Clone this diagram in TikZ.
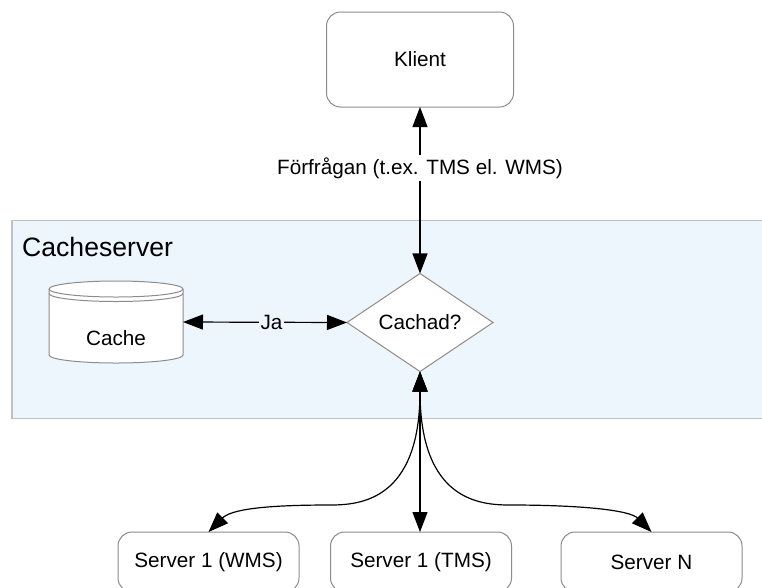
\documentclass[tikz,border=0pt]{standalone}
\usepackage{fontspec}
\setmainfont{Liberation Sans}
\usetikzlibrary{arrows.meta,shapes.geometric}
\definecolor{edgegray}{RGB}{140,140,140}
\definecolor{framegray}{RGB}{192,192,192}
\definecolor{paneblue}{RGB}{237,245,253}
\begin{document}
\begin{tikzpicture}[x=1pt,y=-1pt,
  txt/.style={font=\fontsize{20.7}{24}\selectfont},
  roundbox/.style={draw=edgegray, line width=1pt, fill=white, rounded corners=14pt,
    minimum width=181pt, minimum height=60pt, inner sep=0pt, outer sep=0pt, txt},
  flow/.style={line width=1.2pt,
    {Triangle[length=20pt,width=15pt]}-{Triangle[length=20pt,width=15pt]}},
]
\clip (0,0) rectangle (762,587);
\fill[white] (0,0) rectangle (762,587);

% cache server pane
\draw[fill=paneblue, draw=framegray, line width=1.3pt] (12,220.5) rectangle (775,418.5);
\node[anchor=west, font=\fontsize{26.6}{30}\selectfont, inner sep=0pt] (title) at (22,246.5) {Cacheserver};

% client
\node[roundbox, minimum width=187pt, minimum height=95pt] (klient) at (420,59.5) {Klient};

% decision
\node[diamond, draw=edgegray, fill=white, line width=1pt, minimum width=146pt,
  minimum height=87pt, inner sep=0pt, outer sep=0pt, txt] (dia) at (420,322.5) {Cachad?};

% cache store (database cylinder)
\filldraw[fill=white, draw=edgegray, line width=1pt]
  (49,289) -- (49,355) arc[start angle=180, end angle=0, x radius=67, y radius=8]
  -- (183,289) arc[start angle=0, end angle=-180, x radius=67, y radius=8] -- cycle;
\draw[edgegray, line width=1pt] (49,289) arc[start angle=180, end angle=0, x radius=67, y radius=8];
\draw[edgegray, line width=1pt] (49,293.5) arc[start angle=180, end angle=0, x radius=67, y radius=8];
\node[minimum width=134pt, minimum height=82pt, inner sep=0pt, outer sep=0pt] (cache) at (116,322) {};
\node[txt, inner sep=0pt] (cachelbl) at (116,338) {Cache};

% back-end servers
\node[roundbox] (s1) at (208.5,562) {Server 1 (WMS)};
\node[roundbox] (s2) at (421,562) {Server 1 (TMS)};
\node[roundbox] (sn) at (651.5,562) {Server N};

% connectors
\draw[flow] (klient.south) -- node[pos=0.366, fill=white, inner sep=2.5pt, txt]
  {Förfrågan (t.ex. TMS el. WMS)} (dia.north);
\draw[flow] (cache.east) -- node[pos=0.54, fill=paneblue, inner sep=1.5pt, txt] {Ja} (dia.west);

\coordinate (kneeL) at (330,505);
\coordinate (kneeR) at (510,505);
\draw[flow] (dia.south) .. controls +(0,129) and +(30,0) .. (kneeL)
  .. controls +(-70,0) and +(22,-22) .. (s1.north);
\draw[flow] (dia.south) -- (dia.south |- s2.north);
\draw[flow] (dia.south) .. controls +(0,129) and +(-30,0) .. (kneeR)
  .. controls +(70,0) and +(-22,-22) .. (sn.north);
\end{tikzpicture}
\end{document}
